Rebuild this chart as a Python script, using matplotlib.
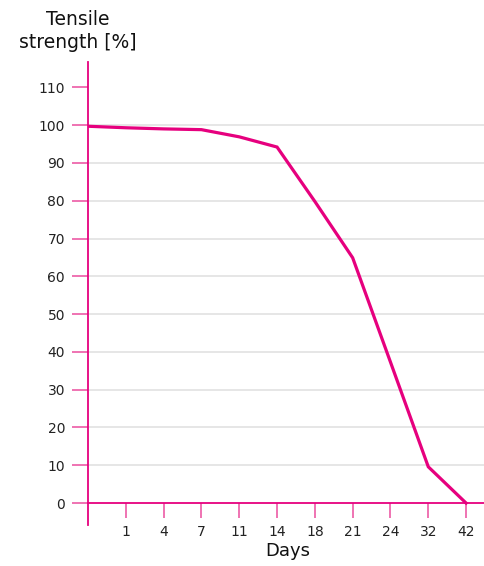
import matplotlib.pyplot as plt

# ----------------------------------------------------------------------
# Data
# ----------------------------------------------------------------------
day_labels = ["1", "4", "7", "11", "14", "18", "21", "24", "32", "42"]
# first point sits on the y axis (position 0), then one point per day label
strength = [99.7, 99.3, 99.0, 98.8, 96.9, 94.2, 79.8, 64.9, 37.3, 9.6, 0.0]
y_ticks = list(range(0, 120, 10))
grid_vals = list(range(10, 110, 10))

MAGENTA = "#E6007E"
TICK_PINK = "#EC5BA5"
GRID = "#E2E2E2"

plt.rcParams["font.family"] = ["DejaVu Sans"]

fig = plt.figure(figsize=(4.85, 5.66), dpi=100)
ax = fig.add_axes([88 / 485, 1 - 525 / 566, (485 - 88) / 485, (525 - 62) / 566])

x = list(range(len(strength)))
ax.hlines(grid_vals, 0, 10.5, colors=GRID, linewidth=1.2, zorder=1)
ax.plot(x, strength, color=MAGENTA, linewidth=2.3, solid_joinstyle="miter", zorder=3)

ax.set_xlim(0, 10.5)
ax.set_ylim(-5.8, 116.7)

for s in ["top", "right"]:
    ax.spines[s].set_visible(False)
ax.spines["bottom"].set_position(("data", 0))
ax.spines["bottom"].set_color(MAGENTA)
ax.spines["left"].set_color(MAGENTA)
ax.spines["bottom"].set_linewidth(1.3)
ax.spines["left"].set_linewidth(1.3)

ax.set_xticks(range(1, len(day_labels) + 1))
ax.set_xticklabels(day_labels)
ax.set_yticks(y_ticks)
ax.tick_params(axis="x", direction="out", length=11, width=1.2, color=TICK_PINK,
               pad=5, labelsize=10, labelcolor="#222222")
ax.tick_params(axis="y", direction="out", length=11.5, width=1.2, color=TICK_PINK,
               pad=5, labelsize=10, labelcolor="#222222")

fig.text(78 / 485, 1 - 31 / 566, "Tensile\nstrength [%]", ha="center", va="center",
         fontsize=13.5, color="#111111", linespacing=1.3)
fig.text(288 / 485, 1 - 551 / 566, "Days", ha="center", va="center",
         fontsize=13, color="#111111")

fig.savefig("out.png", dpi=100)
